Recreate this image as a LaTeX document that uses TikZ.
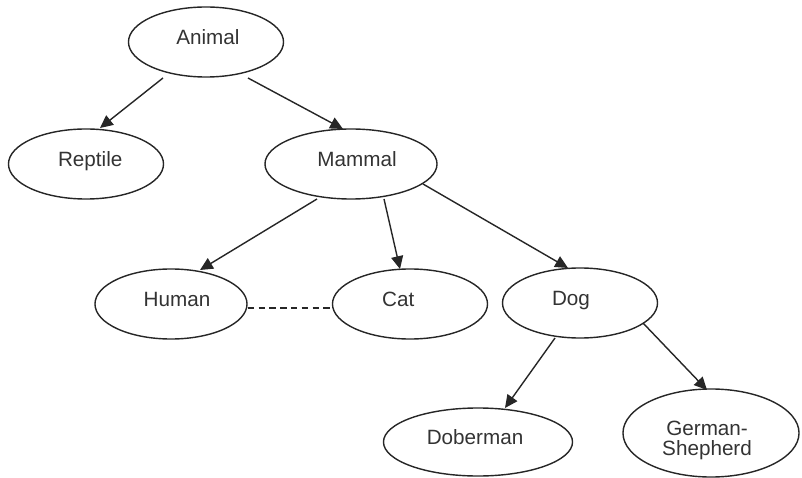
\documentclass[tikz,border=0pt]{standalone}
\usepackage{fontspec}
\setmainfont{Liberation Sans}
\usetikzlibrary{shapes.geometric,arrows.meta,calc}

% move a label sideways inside its ellipse
\newcommand{\offtext}[2]{\hspace*{#1}#2\hspace*{-#1}}

\tikzset{
	kind/.style={ellipse, draw=black!85, line width=1pt, minimum width=3.875cm,
		minimum height=1.75cm, inner sep=0pt, align=center, text=black!80,
		font=\fontsize{14.7}{14}\selectfont},
	word/.style={kind, text height=10.5pt, text depth=6.8pt},
	isa/.style={draw=black!85, line width=1pt, -{Triangle[length=3.2mm,width=3mm]}},
	peer/.style={draw=black!85, line width=1pt, dash pattern=on 1.6mm off 1.1mm},
}

\begin{document}
\begin{tikzpicture}[x=0.025cm, y=-0.025cm]
		\useasboundingbox (0,0) rectangle (802,478);
		\node[word] (animal) at (206,42) {\offtext{1.4pt}{Animal}};
		\node[word] (reptile) at (86,164) {\offtext{3pt}{Reptile}};
		\node[word, minimum width=4.3cm] (mammal) at (351,164) {\offtext{4.3pt}{Mammal}};
		\node[word, minimum width=3.8cm] (human) at (171,304) {\offtext{4.3pt}{Human}};
		\node[word] (cat) at (410,304) {\offtext{-8.4pt}{Cat}};
		\node[word] (dog) at (580,303) {\offtext{-6.4pt}{Dog}};
		\node[word, minimum width=4.725cm, minimum height=1.7cm] (doberman) at (478,442) {\offtext{-2.1pt}{Doberman}};
		\node[kind, minimum width=4.4cm, minimum height=2.2cm] (shepherd) at (711,433)
			{\rule{0pt}{20.5pt}\offtext{-2.8pt}{German-}\\\offtext{-2.8pt}{Shepherd}};
		\draw[isa] ($(animal)+(-43,36)$) -- ($(reptile)+(14,-36)$);
		\draw[isa] ($(animal)+(42,36)$) -- ($(mammal)+(-8,-35)$);
		\draw[isa] ($(mammal)+(-34,35)$) -- ($(human)+(29,-34)$);
		\draw[isa] ($(mammal)+(33,35)$) -- ($(cat)+(-10,-35)$);
		\draw[isa] ($(mammal)+(72,20)$) -- ($(dog)+(-12,-35)$);
		\draw[isa] ($(dog)+(-25,35)$) -- ($(doberman)+(27,-34)$);
		\draw[isa] ($(dog)+(63,20)$) -- ($(shepherd)+(-4,-43)$);
		\draw[peer] ($(human.east)+(0,4)$) -- ($(cat.west)+(0,4)$);
	\end{tikzpicture}
\end{document}
